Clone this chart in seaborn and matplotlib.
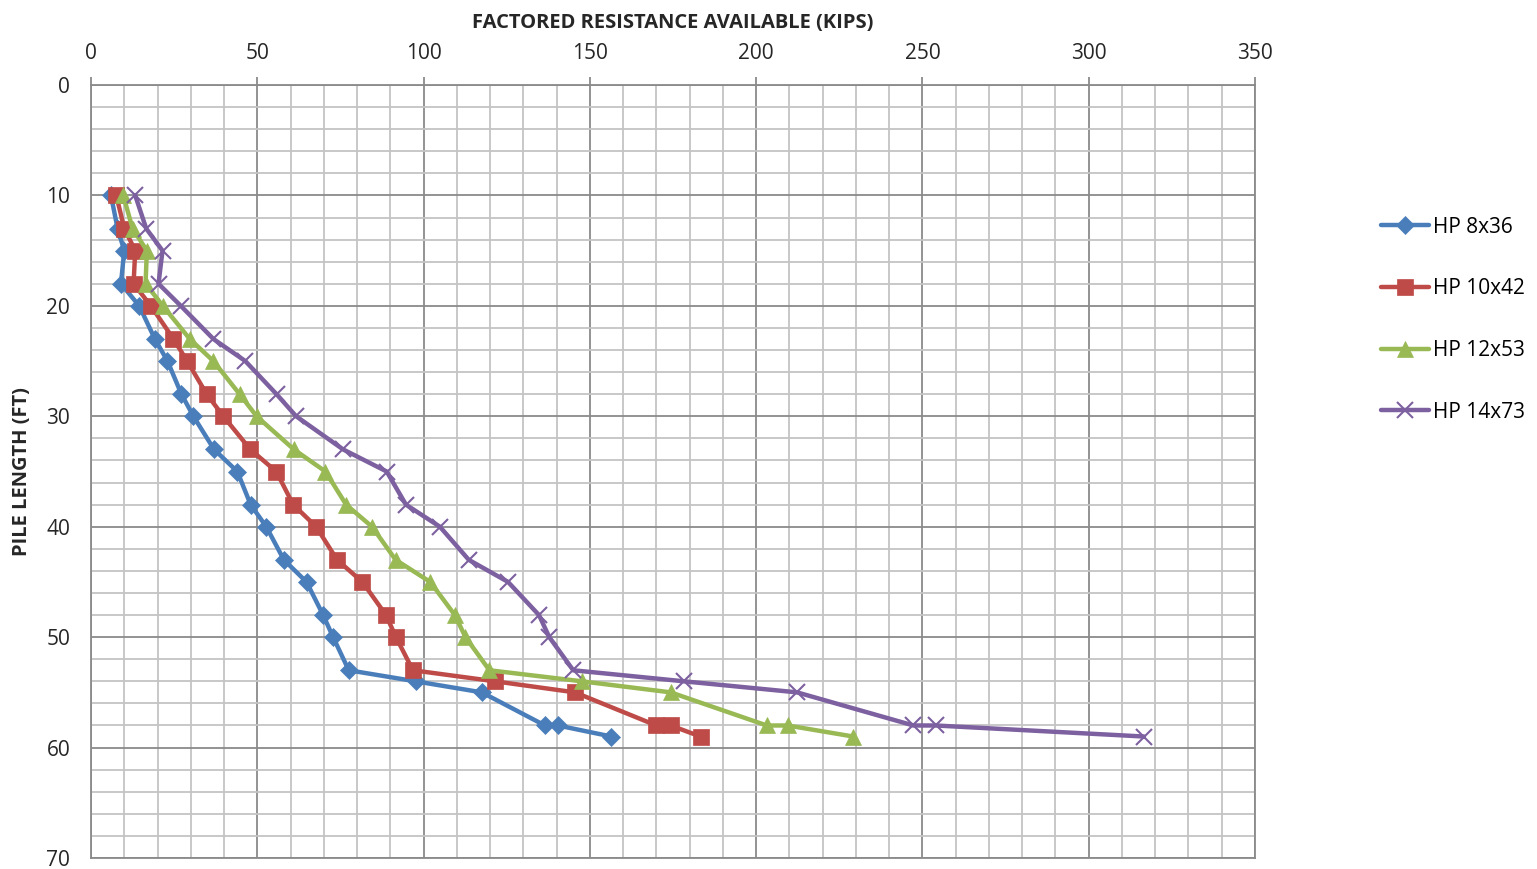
import matplotlib
matplotlib.use("Agg")
import matplotlib.pyplot as plt
import numpy as np
import pandas as pd
import seaborn as sns

# pile lengths (ft) at each reading
depth = [10, 13, 15, 18, 20, 23, 25, 28, 30, 33, 35, 38, 40, 43, 45, 48, 50, 53, 54, 55, 58, 58, 59]

# factored resistance available (kips)
hp8x36 = [6, 8, 10, 9, 14.5, 19.2, 23, 27.2, 30.8, 37, 44, 48, 52.7, 58, 64.8, 69.8, 72.8, 77.5, 97.6, 117.5, 136.5, 140.4, 156.5]
hp10x42 = [7.6, 10, 13.3, 12.8, 18, 24.8, 28.9, 34.8, 39.8, 47.9, 55.7, 60.8, 67.7, 74, 81.6, 88.7, 91.7, 96.8, 121.5, 145.5, 170, 174.3, 183.3]
hp12x53 = [9.7, 12.5, 16.8, 16.4, 21.6, 29.7, 36.8, 44.7, 49.8, 61, 70.5, 76.7, 84.5, 91.6, 102, 109.4, 112.6, 119.8, 147.6, 174.3, 203.2, 209.5, 229.2]
hp14x73 = [13.3, 16.6, 21.5, 20.3, 27, 36.8, 46.4, 55.8, 61.7, 75.8, 88.9, 94.7, 104.9, 113.6, 125.4, 134.7, 137.8, 145, 178.3, 212.3, 247.3, 254, 316.6]

names = ["HP 8x36", "HP 10x42", "HP 12x53", "HP 14x73"]
colors = ["#4A7EBB", "#BE4B48", "#98B954", "#7D60A0"]
markers = ["D", "s", "^", "x"]
msizes = [9, 12, 11, 12]

df = pd.DataFrame({"depth": depth * 4,
                   "kips": hp8x36 + hp10x42 + hp12x53 + hp14x73,
                   "pile": [n for n in names for _ in depth]})

sns.set_style("white")
plt.rcParams['font.family'] = ['Open Sans', 'DejaVu Sans']

fig = plt.figure(figsize=(15.37, 8.69), dpi=100)
ax = fig.add_axes([91 / 1537, 1 - 858 / 869, (1255 - 91) / 1537, (858 - 85) / 869])

for name, col, mk, ms in zip(names, colors, markers, msizes):
    sub = df[df["pile"] == name]
    sns.lineplot(data=sub, x="kips", y="depth", sort=False, estimator=None,
                 color=col, marker=mk, markersize=ms, linewidth=3.2,
                 markeredgecolor=col, markeredgewidth=1.5 if mk == "x" else 0.5,
                 label=name, ax=ax, zorder=3)

ax.set_xlim(0, 350)
ax.set_ylim(70, 0)
ax.set_xticks(np.arange(0, 351, 50))
ax.set_xticks(np.arange(0, 351, 10), minor=True)
ax.set_yticks(np.arange(0, 71, 10))
ax.set_yticks(np.arange(0, 71, 2), minor=True)
ax.xaxis.tick_top()
ax.xaxis.set_label_position("top")
ax.grid(which="major", color="#8a8a8a", linewidth=1.3)
ax.grid(which="minor", color="#c4c4c4", linewidth=1.3)
ax.set_axisbelow(True)
for s in ax.spines.values():
    s.set_color("#8a8a8a")
    s.set_linewidth(1.3)
ax.tick_params(which="major", axis="both", length=6, width=1.3, color="#8a8a8a",
               labelsize=15, pad=9)
ax.tick_params(which="minor", length=0)
ax.tick_params(axis="x", top=True, bottom=False)

ax.set_xlabel("FACTORED RESISTANCE AVAILABLE (KIPS)", fontsize=14.5, fontweight="bold", labelpad=11)
ax.set_ylabel("PILE LENGTH (FT)", fontsize=14.5, fontweight="bold", labelpad=10)

leg = ax.legend(loc="upper left", bbox_to_anchor=(1362 / 1537, 1 - 198 / 869),
                bbox_transform=fig.transFigure, frameon=False, fontsize=15,
                labelspacing=1.95, handlelength=2.3, handletextpad=0.2)
for t in leg.get_texts():
    t.set_color("black")

fig.savefig("out.png", dpi=100)
